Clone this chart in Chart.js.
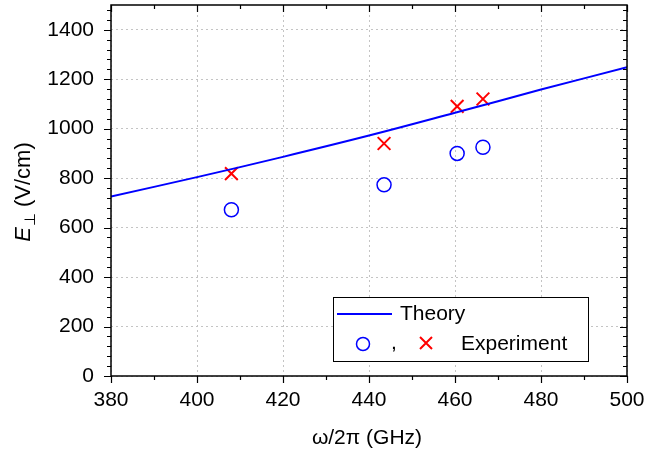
<!DOCTYPE html>
<html>
<head>
<meta charset="utf-8">
<script src="https://cdn.jsdelivr.net/npm/chart.js@4.4.1/dist/chart.umd.min.js"></script>
<style>
  html, body { margin: 0; padding: 0; background: #fff; }
</style>
</head>
<body>
<canvas id="chart" width="647" height="456"></canvas>
<script>
// theory curve
const theoryFreq = [380, 400, 420, 440, 460, 480, 500];
const theoryField = [726, 804, 886, 972, 1064, 1158, 1248];

// experiment points
const expFreq = [408, 443.5, 460.5, 466.5];
const expCircle = [672, 773, 900, 925];
const expCross = [818, 940, 1090, 1120];

const xTickValues = [380, 400, 420, 440, 460, 480, 500];
const yTickValues = [0, 200, 400, 600, 800, 1000, 1200, 1400];

const FONT = "'Liberation Sans', Arial, sans-serif";

const toPoints = (xs, ys) => xs.map((x, i) => ({ x: x, y: ys[i] }));
const noPadding = () => ({ left: 0, right: 0, top: 0, bottom: 0 });

const frame = {
    id: 'frame',
    afterDraw(chart) {
        const { ctx, chartArea: a, scales: { x, y } } = chart;
        ctx.save();
        ctx.strokeStyle = '#000';

        // ticks: outward on left/bottom, inward on top/right
        ctx.lineWidth = 1.2;
        ctx.beginPath();
        for (let v = 380; v <= 500; v += 10) {
            const px = Math.round(x.getPixelForValue(v)) + 0.5;
            const len = v % 20 === 0 ? 7 : 4;
            ctx.moveTo(px, a.bottom); ctx.lineTo(px, a.bottom + len);
            ctx.moveTo(px, a.top); ctx.lineTo(px, a.top + len);
        }
        for (let v = 0; v <= 1500; v += 40) {
            const py = Math.round(y.getPixelForValue(v)) + 0.5;
            const len = v % 200 === 0 ? 7 : 4;
            ctx.moveTo(a.left, py); ctx.lineTo(a.left - len, py);
            ctx.moveTo(a.right, py); ctx.lineTo(a.right - len, py);
        }
        ctx.stroke();

        ctx.lineWidth = 1.5;
        ctx.strokeRect(a.left, a.top, a.right - a.left, a.bottom - a.top);

        // legend box
        const lx = 333, ly = 297, lw = 255, lh = 64;
        ctx.fillStyle = '#fff';
        ctx.fillRect(lx, ly, lw, lh);
        ctx.lineWidth = 1;
        ctx.strokeRect(lx + 0.5, ly + 0.5, lw, lh);

        ctx.strokeStyle = '#0000ff';
        ctx.lineWidth = 2;
        ctx.beginPath();
        ctx.moveTo(337, 314); ctx.lineTo(392, 314);
        ctx.stroke();

        ctx.lineWidth = 1.5;
        ctx.beginPath();
        ctx.arc(363, 344, 6.5, 0, Math.PI * 2);
        ctx.stroke();

        ctx.strokeStyle = '#ff0000';
        ctx.lineWidth = 2;
        ctx.beginPath();
        ctx.moveTo(420, 337); ctx.lineTo(432, 349);
        ctx.moveTo(432, 337); ctx.lineTo(420, 349);
        ctx.stroke();

        ctx.fillStyle = '#000';
        ctx.font = '21px ' + FONT;
        ctx.textBaseline = 'middle';
        ctx.textAlign = 'left';
        ctx.fillText('Theory', 400, 314);
        ctx.fillText(',', 391, 343);
        ctx.fillText('Experiment', 461, 344);

        // x title
        ctx.textAlign = 'center';
        ctx.font = '21px ' + FONT;
        ctx.fillText('\u03C9/2\u03C0 (GHz)', 367, 438);

        // y title: italic E, subscript perp, (V/cm)
        ctx.save();
        ctx.translate(30, 192);
        ctx.rotate(-Math.PI / 2);
        ctx.textBaseline = 'alphabetic';
        ctx.textAlign = 'left';
        const fE = 'italic 22px ' + FONT;
        const fSub = '15px ' + FONT;
        const fRest = '22px ' + FONT;
        ctx.font = fE; const wE = ctx.measureText('E').width + 1;
        ctx.font = fSub; const wS = ctx.measureText('\u22A5').width;
        ctx.font = fRest; const wR = ctx.measureText(' (V/cm)').width;
        let sx = -(wE + wS + wR) / 2;
        ctx.font = fE; ctx.fillText('E', sx, 0); sx += wE;
        ctx.font = fSub; ctx.fillText('\u22A5', sx, 5); sx += wS;
        ctx.font = fRest; ctx.fillText(' (V/cm)', sx, 0);
        ctx.restore();

        ctx.restore();
    }
};

new Chart(document.getElementById('chart'), {
    type: 'scatter',
    data: {
        datasets: [
            {
                label: 'Theory',
                data: toPoints(theoryFreq, theoryField),
                showLine: true,
                borderColor: '#0000ff',
                borderWidth: 2,
                pointRadius: 0,
                tension: 0.4
            },
            {
                label: 'Experiment (circle)',
                data: toPoints(expFreq, expCircle),
                pointStyle: 'circle',
                pointRadius: 7,
                pointBorderWidth: 1.5,
                borderColor: '#0000ff',
                backgroundColor: 'rgba(0,0,0,0)'
            },
            {
                label: 'Experiment (cross)',
                data: toPoints(expFreq, expCross),
                pointStyle: 'crossRot',
                pointRadius: 9,
                pointBorderWidth: 2,
                borderColor: '#ff0000',
                backgroundColor: '#ff0000'
            }
        ]
    },
    options: {
        responsive: false,
        animation: false,
        devicePixelRatio: 1,
        layout: { autoPadding: false, padding: { left: 0, right: 20, top: 5, bottom: 0 } },
        plugins: { legend: { display: false }, tooltip: { enabled: false } },
        scales: {
            x: {
                type: 'linear',
                min: 380,
                max: 500,
                afterBuildTicks: s => { s.ticks = xTickValues.map(v => ({ value: v })); },
                afterFit: s => { s.height = 80; s.paddingLeft = 0; s.paddingRight = 0; s.getPadding = noPadding; },
                ticks: { color: '#000', font: { family: FONT, size: 21 }, padding: 12, callback: v => String(v) },
                grid: { color: '#c4c4c4', lineWidth: 1, drawTicks: false },
                border: { display: false, dash: [2, 3] }
            },
            y: {
                type: 'linear',
                min: 0,
                max: 1500,
                afterBuildTicks: s => { s.ticks = yTickValues.map(v => ({ value: v })); },
                afterFit: s => { s.width = 111; s.paddingTop = 0; s.paddingBottom = 0; s.getPadding = noPadding; },
                ticks: { color: '#000', font: { family: FONT, size: 21 }, padding: 17, callback: v => String(v) },
                grid: { color: '#c4c4c4', lineWidth: 1, drawTicks: false },
                border: { display: false, dash: [2, 3] }
            }
        }
    },
    plugins: [frame]
});
</script>
</body>
</html>
